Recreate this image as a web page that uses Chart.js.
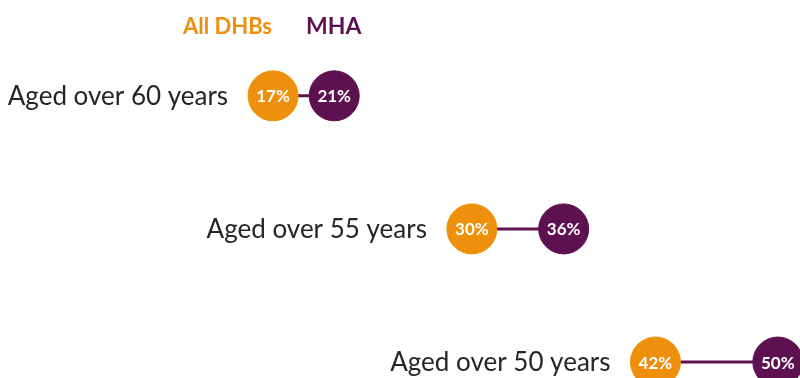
<!DOCTYPE html>
<html>
<head>
<meta charset="utf-8">
<script src="https://cdn.jsdelivr.net/npm/chart.js@4"></script>
<style>
  html, body { margin: 0; padding: 0; background: #fff; }
  #wrap { width: 800px; height: 378px; position: relative; }
</style>
</head>
<body>
<div id="wrap"><canvas id="chart"></canvas></div>
<script>
// ---- data ----
const categories = ['Aged over 60 years', 'Aged over 55 years', 'Aged over 50 years'];
const allDhbs = [17, 30, 42];
const mha = [21, 36, 50];
const seriesNames = ['All DHBs', 'MHA'];

const ORANGE = '#EE900B';
const PURPLE = '#5E1150';

// connector lines, one per row
const connectors = categories.map((c, i) => ({
    type: 'line',
    data: [{ x: allDhbs[i], y: i }, { x: mha[i], y: i }],
    borderColor: PURPLE,
    borderWidth: 3,
    pointRadius: 0,
    clip: false,
    order: 3
}));

const dotsPlugin = {
    id: 'dotLabels',
    afterDatasetsDraw(chart) {
        const ctx = chart.ctx;
        const xs = chart.scales.x;
        const ys = chart.scales.y;
        ctx.save();
        // percent text inside dots
        ctx.fillStyle = '#fff';
        ctx.font = 'bold 17px Lato, "Open Sans", sans-serif';
        ctx.textAlign = 'center';
        ctx.textBaseline = 'middle';
        categories.forEach((c, i) => {
            ctx.fillText(allDhbs[i] + '%', xs.getPixelForValue(allDhbs[i]), ys.getPixelForValue(i) + 1);
            ctx.fillText(mha[i] + '%', xs.getPixelForValue(mha[i]), ys.getPixelForValue(i) + 1);
        });
        // row labels to the left of first dot
        ctx.fillStyle = '#262626';
        ctx.font = '26px Lato, "Open Sans", sans-serif';
        ctx.textAlign = 'right';
        categories.forEach((c, i) => {
            ctx.fillText(c, xs.getPixelForValue(allDhbs[i]) - 45, ys.getPixelForValue(i) + 1);
        });
        // legend
        ctx.font = 'bold 22px Lato, "Open Sans", sans-serif';
        ctx.textAlign = 'left';
        ctx.fillStyle = ORANGE;
        ctx.fillText(seriesNames[0], 183, 27);
        ctx.fillStyle = PURPLE;
        ctx.font = 'bold 23px Lato, "Open Sans", sans-serif';
        ctx.fillText(seriesNames[1], 306, 27);
        ctx.restore();
    }
};

new Chart(document.getElementById('chart'), {
    type: 'scatter',
    data: {
        datasets: [
            ...connectors,
            {
                label: seriesNames[0],
                data: allDhbs.map((v, i) => ({ x: v, y: i })),
                backgroundColor: ORANGE,
                borderColor: ORANGE,
                pointRadius: 25,
                clip: false,
                order: 1
            },
            {
                label: seriesNames[1],
                data: mha.map((v, i) => ({ x: v, y: i })),
                backgroundColor: PURPLE,
                borderColor: PURPLE,
                pointRadius: 25,
                clip: false,
                order: 2
            }
        ]
    },
    options: {
        responsive: true,
        maintainAspectRatio: false,
        animation: false,
        layout: { padding: 0, autoPadding: false },
        scales: {
            x: { type: 'linear', display: false, min: -0.85, max: 51.45 },
            y: { type: 'linear', display: false, reverse: true, min: -0.72, max: 2.12 }
        },
        plugins: {
            legend: { display: false },
            tooltip: { enabled: false }
        }
    },
    plugins: [dotsPlugin]
});
</script>
</body>
</html>
